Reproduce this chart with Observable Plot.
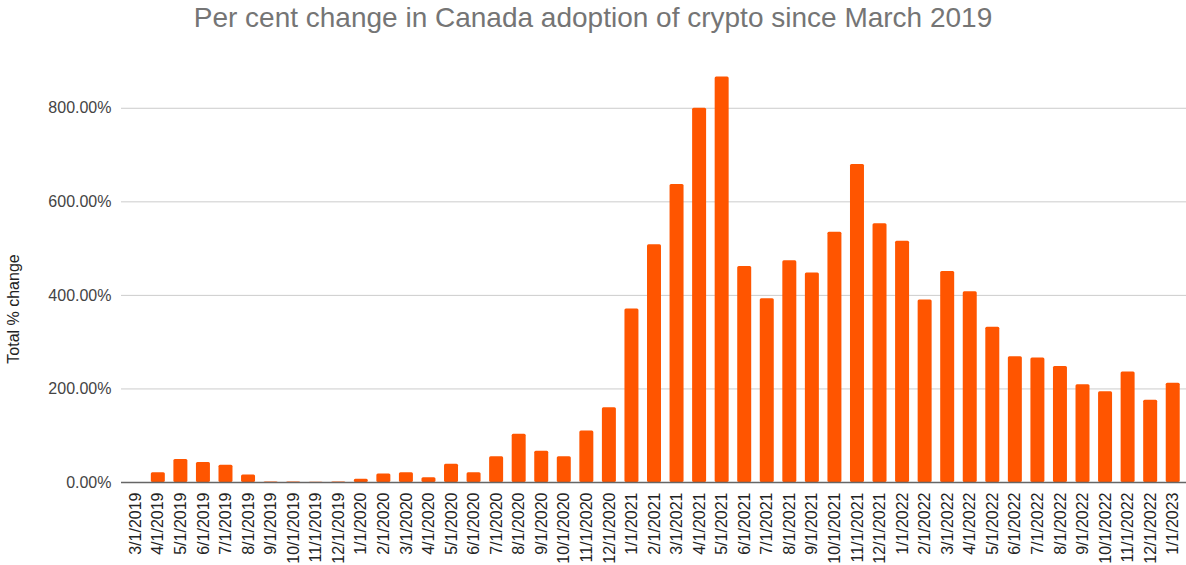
<!DOCTYPE html>
<html>
<head>
<meta charset="utf-8">
<script src="https://cdn.jsdelivr.net/npm/d3@7"></script>
<script src="https://cdn.jsdelivr.net/npm/@observablehq/plot@0.6"></script>
<style>
  html, body { margin: 0; padding: 0; background: #fff; }
  body { width: 1186px; height: 565px; overflow: hidden; font-family: Arial, "Liberation Sans", sans-serif; }
  #title { height: 35px; line-height: 35px; font-size: 28px; color: #757575; text-align: center; white-space: nowrap; }
  svg { overflow: visible; }
</style>
</head>
<body>
<div id="title">Per cent change in Canada adoption of crypto since March 2019</div>
<div id="chart"></div>
<script>
const months = [
  "3/1/2019","4/1/2019","5/1/2019","6/1/2019","7/1/2019","8/1/2019","9/1/2019","10/1/2019","11/1/2019","12/1/2019",
  "1/1/2020","2/1/2020","3/1/2020","4/1/2020","5/1/2020","6/1/2020","7/1/2020","8/1/2020","9/1/2020","10/1/2020","11/1/2020","12/1/2020",
  "1/1/2021","2/1/2021","3/1/2021","4/1/2021","5/1/2021","6/1/2021","7/1/2021","8/1/2021","9/1/2021","10/1/2021","11/1/2021","12/1/2021",
  "1/1/2022","2/1/2022","3/1/2022","4/1/2022","5/1/2022","6/1/2022","7/1/2022","8/1/2022","9/1/2022","10/1/2022","11/1/2022","12/1/2022",
  "1/1/2023"
];
const pctChange = [
  0, 21, 49, 43, 37, 16, 1, 1, 0.5, 1,
  7, 18, 21, 10, 39, 21, 55, 103, 67, 55, 110, 160,
  371, 508, 637, 800, 867, 462, 393, 474, 448, 535, 680, 553,
  516, 390, 451, 408, 332, 269, 266, 248, 209, 194, 236, 176,
  212
];
const yTicks = [0, 200, 400, 600, 800];
const yLabel = "Total % change";

const data = months.map((m, i) => ({month: m, value: pctChange[i]}));

const chart = Plot.plot({
  width: 1186,
  height: 530,
  marginTop: 26,
  marginBottom: 83,
  marginLeft: 121,
  marginRight: 0,
  style: {fontFamily: 'Arial, "Liberation Sans", sans-serif', fontSize: "16px", color: "#444", background: "#fff"},
  x: {domain: months, paddingInner: 0.38, paddingOuter: 0.19, insetLeft: 3, insetRight: 2, round: false},
  y: {domain: [0, 900]},
  marks: [
    Plot.gridY(yTicks.slice(1), {stroke: "#ccc", strokeOpacity: 1, strokeWidth: 1}),
    Plot.barY(data, {x: "month", y: "value", fill: "#ff5500", rx: 1.5}),
    Plot.ruleY([0], {stroke: "#666", strokeWidth: 1.5}),
    Plot.axisY(yTicks, {
      tickSize: 0, tickPadding: 10, tickFormat: d => d.toFixed(2) + "%",
      label: null, fill: "#444", fontSize: 16
    }),
    Plot.text([yLabel], {
      frameAnchor: "left", rotate: -90, dx: -108, dy: 37,
      textAnchor: "middle", lineAnchor: "middle", fill: "#222", fontSize: 16
    }),
    Plot.axisX({tickSize: 0, tickPadding: 10, tickRotate: -90, label: null, fill: "#222", fontSize: 16})
  ]
});
document.getElementById("chart").appendChild(chart);
</script>
</body>
</html>
